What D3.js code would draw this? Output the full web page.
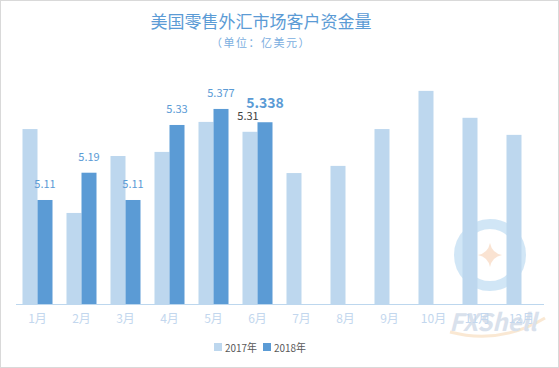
<!DOCTYPE html>
<html><head><meta charset="utf-8">
<script src="https://cdn.jsdelivr.net/npm/d3@7"></script>
<style>
html,body{margin:0;padding:0;background:#fff;}
svg{display:block;font-family:"Microsoft YaHei","Noto Sans CJK SC","DejaVu Sans",sans-serif;}
</style></head>
<body>
<script>
const months = ["1月","2月","3月","4月","5月","6月","7月","8月","9月","10月","11月","12月"];
const series2017 = [5.318,5.072,5.239,5.251,5.339,5.31,5.189,5.210,5.318,5.430,5.351,5.301];
const series2018 = [5.11,5.19,5.11,5.33,5.377,5.338,null,null,null,null,null,null];
const labels2018 = ["5.11","5.19","5.11","5.33","5.377","5.338"];
const seriesNames = ["2017年","2018年"];
const colors = ["#bdd7ee","#5b9bd5"];

const W=559,H=368;
const svg=d3.select("body").append("svg").attr("width",W).attr("height",H);
svg.append("rect").attr("x",0.5).attr("y",0.5).attr("width",W-1).attr("height",H-1)
  .attr("fill","#fff").attr("stroke","#d9d9d9");

// title
svg.append("text").attr("x",261).attr("y",28).attr("text-anchor","middle")
  .attr("font-size",17).attr("fill","#5b9bd5").text("美国零售外汇市场客户资金量");
svg.append("text").attr("x",261).attr("y",47).attr("text-anchor","middle")
  .attr("font-size",11).attr("letter-spacing",1.5).attr("fill","#7aaee0").text("（单位：亿美元）");

// watermark
const wm=svg.append("g").attr("opacity",0.5);
wm.append("circle").attr("cx",490).attr("cy",255).attr("r",31).attr("fill","none")
  .attr("stroke","#8ec3ea").attr("stroke-width",10).attr("opacity",0.8);
wm.append("path").attr("d","M490,243 Q492,253 502,255 Q492,257 490,267 Q488,257 478,255 Q488,253 490,243Z")
  .attr("fill","#f7c9a6");
wm.append("path").attr("d","M450,332 Q500,345 545,318").attr("fill","none").attr("stroke","#f6d3a8").attr("stroke-width",3);
wm.append("text").attr("x",493).attr("y",331).attr("text-anchor","middle").attr("font-size",24)
  .attr("font-weight","bold").attr("font-style","italic").attr("fill","#b4c4da").text("FXShell");

const x=d3.scaleBand().domain(months).range([15.5,543.5]).paddingInner(0.318).paddingOuter(0.159);
const xs=d3.scaleBand().domain(seriesNames).range([0,x.bandwidth()]);
const y=d3.scaleLinear().domain([4.805,5.5]).range([304,67]);

const g=svg.append("g");
months.forEach((m,i)=>{
  g.append("rect").attr("x",x(m)+xs("2017年")).attr("width",xs.bandwidth())
   .attr("y",y(series2017[i])).attr("height",y(4.805)-y(series2017[i])).attr("fill",colors[0]);
  if(series2018[i]!=null){
    g.append("rect").attr("x",x(m)+xs("2018年")).attr("width",xs.bandwidth())
     .attr("y",y(series2018[i])).attr("height",y(4.805)-y(series2018[i])).attr("fill",colors[1]);
  }
});

// axis
const ax=svg.append("g").attr("transform","translate(0,304.5)").call(d3.axisBottom(x).tickSize(0).tickPadding(10));
ax.select(".domain").attr("stroke","#bdd7ee").attr("d","M16,0H544");
ax.selectAll("text").attr("font-size",12).attr("fill","#c3d7ee").attr("font-family","\"Microsoft YaHei\",\"Noto Sans CJK SC\",sans-serif");

// data labels
labels2018.forEach((t,i)=>{
  const m=months[i];
  const cx=x(m)+xs("2018年")+xs.bandwidth()/2;
  const isBig = i===5;
  g.append("text").attr("x",cx).attr("y",isBig?y(series2018[i])-14:y(series2018[i])-11.5)
   .attr("text-anchor","middle").attr("font-size",isBig?14:11).attr("font-weight",isBig?"bold":"normal")
   .attr("fill","#5b9bd5").text(t);
});
// 5.31 label for June 2017
{
  const cx=x("6月")+xs("2017年")+xs.bandwidth()/2;
  g.append("text").attr("x",cx-2).attr("y",y(5.31)-11.5).attr("text-anchor","middle")
   .attr("font-size",11).attr("fill","#404040").text("5.31");
}

// legend
const lg=svg.append("g");
const items=[{n:seriesNames[0],c:colors[0],x:214},{n:seriesNames[1],c:colors[1],x:263}];
items.forEach(it=>{
  lg.append("rect").attr("x",it.x).attr("y",343).attr("width",8).attr("height",8).attr("fill",it.c);
  lg.append("text").attr("x",it.x+11).attr("y",351.5).attr("font-size",11)
    .attr("textLength",32).attr("lengthAdjust","spacingAndGlyphs").attr("fill","#595959").text(it.n);
});
</script>
</body></html>
